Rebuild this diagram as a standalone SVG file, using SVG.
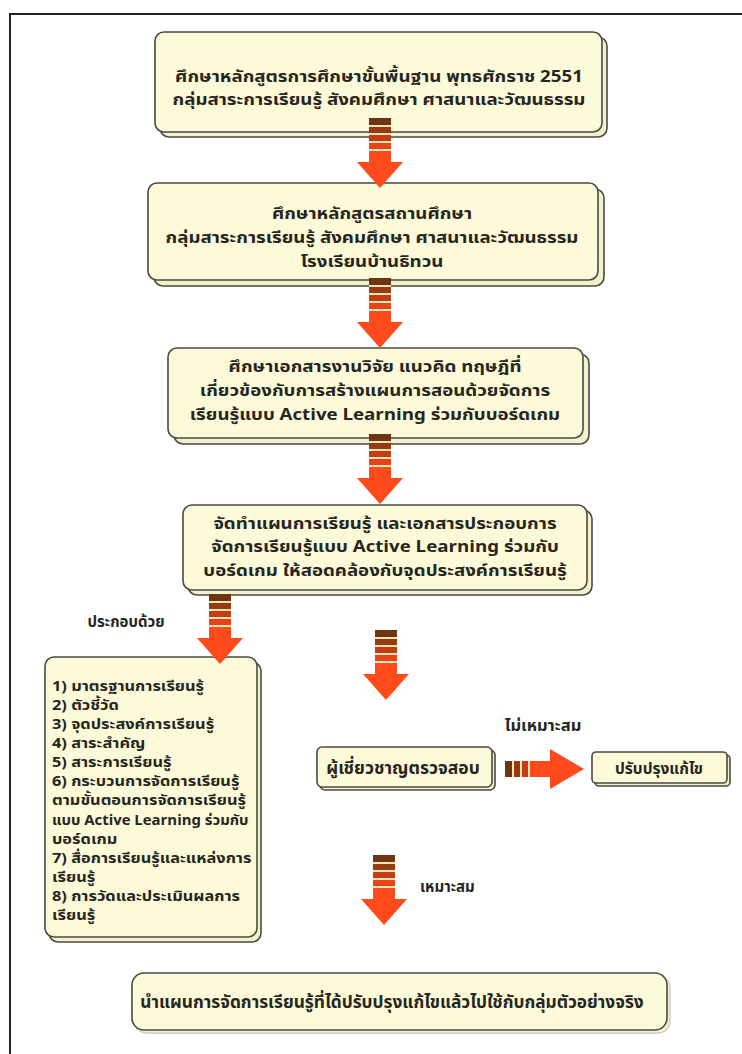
<svg xmlns="http://www.w3.org/2000/svg" xmlns:xlink="http://www.w3.org/1999/xlink" width="742" height="1054" viewBox="0 0 742 1054">
<style>
.box{fill:#fcfad8;stroke:#4a4a44;stroke-width:1.6}
.sh{fill:#f4f1cc;stroke:#4a4a44;stroke-width:1.6}
.t{font-family:"Noto Sans Thai","Tahoma","Noto Sans","DejaVu Sans",sans-serif;font-size:16.4px;font-weight:bold;fill:#26261e;text-anchor:middle}
.l{font-family:"Noto Sans Thai","Tahoma","Noto Sans","DejaVu Sans",sans-serif;font-size:14px;font-weight:bold;fill:#26261e}
.lab{font-family:"Noto Sans Thai","Tahoma","Noto Sans","DejaVu Sans",sans-serif;font-size:15px;font-weight:bold;fill:#26261e}
</style>
<defs>
<g id="va">
<rect x="-11" y="0" width="22" height="34" fill="#fbe3b4"/>
<rect x="-11" y="0" width="22" height="7" fill="#6e3512"/>
<rect x="-11" y="9" width="22" height="6" fill="#963a14"/>
<rect x="-11" y="17" width="22" height="6" fill="#c23c16"/>
<rect x="-11" y="25" width="22" height="6" fill="#e8441a"/>
<rect x="-11" y="33" width="22" height="12" fill="#ff4a1c"/>
<polygon points="-23,44 23,44 0,70" fill="#ff4a1c"/>
</g>
</defs>
<rect x="0" y="0" width="742" height="1054" fill="#ffffff"/>
<path d="M10,1054 V14 H742" fill="none" stroke="#222" stroke-width="2"/>

<g id="n1">
<rect class="sh" x="160" y="37" width="447" height="100" rx="9"/>
<rect class="box" x="155" y="32" width="447" height="100" rx="9"/>
<g transform="translate(379,0) scale(1.14,1)">
<text class="t" x="0" y="82">ศึกษาหลักสูตรการศึกษาขั้นพื้นฐาน พุทธศักราช 2551</text>
<text class="t" x="0" y="105">กลุ่มสาระการเรียนรู้ สังคมศึกษา ศาสนาและวัฒนธรรม</text>
</g>
</g>
<g id="n2">
<rect class="sh" x="154" y="189" width="450" height="97" rx="9"/>
<rect class="box" x="148" y="183" width="450" height="97" rx="9"/>
<g transform="translate(372,0) scale(1.14,1)">
<text class="t" x="0" y="219">ศึกษาหลักสูตรสถานศึกษา</text>
<text class="t" x="0" y="243">กลุ่มสาระการเรียนรู้ สังคมศึกษา ศาสนาและวัฒนธรรม</text>
<text class="t" x="0" y="267">โรงเรียนบ้านธิทวน</text>
</g>
</g>
<g id="n3">
<rect class="sh" x="174" y="354" width="415" height="90" rx="9"/>
<rect class="box" x="168" y="348" width="415" height="90" rx="9"/>
<g transform="translate(375,0) scale(1.14,1)">
<text class="t" x="0" y="372">ศึกษาเอกสารงานวิจัย แนวคิด ทฤษฎีที่</text>
<text class="t" x="0" y="396">เกี่ยวข้องกับการสร้างแผนการสอนด้วยจัดการ</text>
<text class="t" x="0" y="420">เรียนรู้แบบ Active Learning ร่วมกับบอร์ดเกม</text>
</g>
</g>
<g id="n4">
<rect class="sh" x="188" y="510" width="404" height="85" rx="9"/>
<rect class="box" x="183" y="505" width="404" height="85" rx="9"/>
<g transform="translate(385,0) scale(1.14,1)">
<text class="t" x="0" y="529">จัดทำแผนการเรียนรู้ และเอกสารประกอบการ</text>
<text class="t" x="0" y="552.5">จัดการเรียนรู้แบบ Active Learning ร่วมกับ</text>
<text class="t" x="0" y="576">บอร์ดเกม ให้สอดคล้องกับจุดประสงค์การเรียนรู้</text>
</g>
</g>
<g id="n5">
<rect class="sh" x="49" y="662" width="212" height="280" rx="9"/>
<rect class="box" x="45" y="657" width="212" height="280" rx="9"/>
<g transform="translate(52,0) scale(1.17,1)">
<text class="l" x="0" y="691">1) มาตรฐานการเรียนรู้</text>
<text class="l" x="0" y="710">2) ตัวชี้วัด</text>
<text class="l" x="0" y="729">3) จุดประสงค์การเรียนรู้</text>
<text class="l" x="0" y="748">4) สาระสำคัญ</text>
<text class="l" x="0" y="767">5) สาระการเรียนรู้</text>
<text class="l" x="0" y="786">6) กระบวนการจัดการเรียนรู้</text>
<text class="l" x="0" y="805">ตามขั้นตอนการจัดการเรียนรู้</text>
<text class="l" x="0" y="825" textLength="168" lengthAdjust="spacingAndGlyphs">แบบ Active Learning ร่วมกับ</text>
<text class="l" x="0" y="844">บอร์ดเกม</text>
<text class="l" x="0" y="863">7) สื่อการเรียนรู้และแหล่งการ</text>
<text class="l" x="0" y="882">เรียนรู้</text>
<text class="l" x="0" y="901">8) การวัดและประเมินผลการ</text>
<text class="l" x="0" y="920">เรียนรู้</text>
</g>
</g>
<g id="n6">
<rect class="sh" x="320" y="750" width="175" height="40" rx="5"/>
<rect class="box" x="317" y="747" width="175" height="40" rx="5"/>
<text class="t" x="403" y="774" style="font-size:17.5px">ผู้เชี่ยวชาญตรวจสอบ</text>
</g>
<g id="n7">
<rect class="sh" x="595" y="755" width="135" height="31" rx="4"/>
<rect class="box" x="592" y="752" width="135" height="31" rx="4"/>
<text class="t" x="659" y="774" style="font-size:15.5px">ปรับปรุงแก้ไข</text>
</g>
<g id="n8">
<rect class="sh" x="135" y="976" width="535" height="57" rx="12" style="stroke:#cccccc"/>
<rect class="box" x="132" y="973" width="535" height="57" rx="12"/>
<text class="t" x="392" y="1008" style="font-size:17.3px">นำแผนการจัดการเรียนรู้ที่ได้ปรับปรุงแก้ไขแล้วไปใช้กับกลุ่มตัวอย่างจริง</text>
</g>

<g id="connectors">
<use xlink:href="#va" x="380" y="118"/>
<use xlink:href="#va" x="380" y="278"/>
<use xlink:href="#va" x="380" y="434"/>
<use xlink:href="#va" x="220" y="594"/>
<use xlink:href="#va" x="386" y="630"/>
<use xlink:href="#va" x="384" y="855"/>
<g id="harrow">
<rect x="505" y="761" width="47" height="16" fill="#fbe3b4"/>
<rect x="505" y="761" width="7" height="16" fill="#6e3512"/>
<rect x="514" y="761" width="6" height="16" fill="#963a14"/>
<rect x="522" y="761" width="6" height="16" fill="#c23c16"/>
<rect x="530" y="761" width="21" height="16" fill="#ff4a1c"/>
<polygon points="550,749 550,789 584,769" fill="#ff4a1c"/>
</g>
<text class="lab" x="126" y="627" text-anchor="middle">ประกอบด้วย</text>
<text class="lab" x="543" y="731" text-anchor="middle" style="font-size:16.5px">ไม่เหมาะสม</text>
<text class="lab" x="420" y="892">เหมาะสม</text>
</g>
</svg>
